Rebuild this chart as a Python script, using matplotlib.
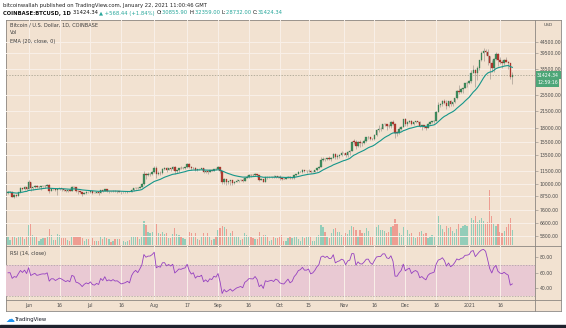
import matplotlib
matplotlib.use('Agg')
import matplotlib.pyplot as plt
import matplotlib.transforms as mtransforms
from matplotlib.patches import Rectangle
from matplotlib.lines import Line2D
from matplotlib.ticker import NullLocator
import numpy as np
import pandas as pd

W, H = 566, 328

# daily closes before the first visible candle (only used to warm up EMA / RSI)
warmup_close = [7130, 7490, 7510, 7540, 7700, 7790, 7760, 8780, 8620, 8830,
                8970, 8890, 8870, 9020, 9150, 9990, 9810, 9540, 8730, 8570,
                8820, 9310, 9790, 9320, 9380, 9680, 9730, 9780, 9510, 9060]

# COINBASE:BTCUSD 1D, 2020-05-22 .. 2021-01-22
close = [
    9170, 9180, 8720, 8900, 8840, 9200, 9575, 9430, 9700, 9450,  # May
    10200, 9520, 9660, 9800, 9620, 9670, 9750, 9780, 9770, 9880,
    9270, 9470, 9470, 9340, 9430, 9520, 9460, 9380, 9300, 9360,
    9290, 9680, 9630, 9290, 9250, 9160, 9010, 9120, 9190, 9140,  # Jun
    9230, 9090, 9060, 9130, 9080, 9340, 9250, 9430, 9240, 9290,
    9240, 9300, 9240, 9250, 9190, 9130, 9150, 9170, 9210, 9160,
    9390, 9530, 9610, 9550, 9710, 9930, 11030, 10930, 11100, 11110, 11340,  # Jul
    11800, 11070, 11230, 11190, 11740, 11760, 11590, 11760, 11680, 11880,
    11390, 11570, 11790, 11770, 11860, 11910, 12290, 11960, 11750, 11860,
    11520, 11680, 11650, 11750, 11330, 11460, 11320, 11530, 11480, 11710, 11660,  # Aug
    11920, 11390, 10170, 10470, 10160, 10260, 10370, 10120, 10230, 10340,
    10390, 10440, 10330, 10680, 10790, 10950, 10940, 10930, 11090, 10920,
    10420, 10530, 10240, 10740, 10690, 10730, 10770, 10690, 10840, 10780,  # Sep
    10620, 10570, 10550, 10670, 10790, 10600, 10670, 10920, 11060, 11300,
    11370, 11540, 11430, 11430, 11500, 11320, 11370, 11510, 11750, 11920,
    12810, 12990, 12930, 13120, 13030, 13070, 13650, 13280, 13460, 13560, 13800,  # Oct
    13760, 13550, 14030, 14150, 15590, 15580, 14830, 15480, 15330, 15310,
    15700, 16300, 16330, 16070, 15960, 16730, 17660, 17800, 17820, 18680,
    18710, 18420, 18370, 19160, 18740, 17150, 17140, 17720, 18180, 19700,  # Nov
    18790, 19220, 19450, 18700, 19160, 19380, 19180, 18330, 18550, 18260,
    18050, 18810, 19170, 19280, 19440, 21350, 22820, 23130, 23850, 23480,
    22720, 23820, 23250, 23730, 24710, 26440, 26280, 27040, 27370, 28880, 28990,  # Dec
    29410, 32200, 33000, 31990, 33990, 36820, 39460, 40670, 40240, 38240,
    35570, 34000, 37390, 39160, 36830, 36070, 35820, 36630, 36000, 35520,
    30855.90, 31424.34,  # Jan
]
high = [
    9270, 9310, 9300, 8980, 9010, 9220, 9620, 9610, 9740, 9700,
    10430, 10230, 9700, 9880, 9850, 9730, 9800, 9810, 9860, 9990,
    9950, 9560, 9500, 9480, 9500, 9580, 9560, 9480, 9400, 9400,
    9420, 9780, 9690, 9670, 9320, 9300, 9200, 9200, 9230, 9200,
    9300, 9270, 9130, 9190, 9140, 9380, 9360, 9460, 9450, 9310,
    9300, 9340, 9350, 9280, 9270, 9220, 9190, 9190, 9230, 9220,
    9430, 9540, 9670, 9630, 9730, 10130, 11420, 11250, 11340, 11180, 11460,
    12120, 12080, 11480, 11420, 11800, 11910, 11910, 11800, 11810, 12080,
    12000, 11620, 11800, 12000, 11990, 11950, 12480, 12400, 12020, 11890,
    11880, 11700, 11710, 11820, 11770, 11530, 11590, 11550, 11570, 11720, 11770,
    12080, 11950, 11460, 10600, 10560, 10350, 10400, 10430, 10350, 10500,
    10420, 10480, 10580, 10770, 10940, 11090, 11040, 11040, 11180, 11050,
    10990, 10580, 10540, 10780, 10770, 10780, 10800, 10950, 10870, 10860,
    10950, 10660, 10600, 10700, 10800, 10800, 10690, 10970, 11110, 11490,
    11440, 11740, 11550, 11560, 11630, 11540, 11410, 11520, 11830, 12010,
    13220, 13200, 13020, 13170, 13350, 13250, 13790, 13860, 13630, 13670, 14100,
    13900, 13830, 14080, 14240, 15750, 15980, 15780, 15650, 15850, 15480,
    15960, 16340, 16480, 16330, 16170, 16880, 17850, 18480, 18130, 18800,
    18970, 18750, 18770, 19410, 19480, 18910, 17470, 18170, 18350, 19860,
    19920, 19300, 19580, 19520, 19180, 19420, 19420, 19290, 18650, 18580,
    18280, 18950, 19420, 19350, 19570, 21560, 23770, 23290, 24170, 24300,
    24120, 23840, 24100, 23780, 24790, 26870, 28420, 27400, 27400, 28990, 29300,
    29680, 33300, 34800, 33600, 34440, 36940, 40380, 41950, 41380, 41400,
    38280, 36640, 37800, 40100, 39760, 37950, 36850, 37300, 37850, 36400,
    35600, 32359,
]
low = [
    8940, 9080, 8700, 8640, 8700, 8820, 9110, 9330, 9360, 9380,
    9420, 9270, 9400, 9530, 9580, 9560, 9400, 9630, 9580, 9720,
    9100, 9240, 9350, 9250, 8900, 9370, 9250, 9290, 9200, 9220,
    9270, 9280, 9560, 9220, 9000, 9040, 8830, 8950, 9020, 9080,
    9090, 8950, 9030, 9050, 8930, 9060, 9200, 9230, 9160, 9120,
    9190, 9160, 9200, 9120, 9160, 9020, 9080, 9120, 9110, 9130,
    9150, 9280, 9460, 9450, 9520, 9640, 9900, 10560, 10890, 10830, 10990,
    11230, 10660, 11000, 11000, 11100, 11590, 11360, 11530, 11500, 11540,
    11130, 11160, 11300, 11700, 11700, 11680, 11850, 11820, 11580, 11670,
    11500, 11400, 11520, 11590, 11160, 11260, 11140, 11280, 11450, 11460, 11600,
    11650, 11180, 10000, 9960, 9880, 10020, 9900, 9850, 10000, 10200,
    10200, 10300, 10200, 10260, 10630, 10660, 10760, 10810, 10890, 10760,
    10300, 10360, 10140, 10200, 10550, 10650, 10630, 10640, 10660, 10680,
    10420, 10360, 10500, 10520, 10630, 10530, 10560, 10540, 10830, 11050,
    11280, 11190, 11300, 11250, 11270, 11220, 11290, 11330, 11420, 11690,
    11900, 12690, 12730, 12880, 12900, 12780, 13060, 12950, 12990, 13140, 13440,
    13610, 13220, 13300, 13540, 14100, 15190, 14360, 14700, 14800, 14850,
    15280, 15450, 15960, 15780, 15800, 15870, 16550, 17230, 17350, 17750,
    18380, 17620, 18010, 18050, 18560, 16200, 16500, 16880, 17550, 18180,
    18330, 18330, 18920, 18580, 18520, 18870, 18920, 18230, 17650, 17920,
    17590, 18000, 18720, 19000, 19050, 19300, 21230, 22350, 22800, 23100,
    21900, 22360, 22700, 22710, 23440, 24520, 25830, 26100, 25880, 27320, 27850,
    28620, 28950, 32000, 27730, 29880, 33300, 36310, 36350, 38720, 35100,
    30300, 32500, 32400, 36700, 34400, 35400, 33850, 34800, 35900, 33400,
    30070, 28732,
]
volume = [
    9000, 6000, 9500, 10500, 8000, 9500, 10000, 8500, 7000, 9000,
    22000, 24000, 11000, 9000, 9500, 5000, 6500, 7500, 8000, 9000,
    18000, 11000, 5500, 6000, 12000, 11000, 8000, 7500, 8000, 6000,
    5000, 10000, 9000, 9500, 8500, 9000, 7500, 5000, 7000, 6500,
    7000, 7500, 5000, 4000, 4000, 9000, 6500, 8500, 7500, 6500,
    3500, 4500, 7000, 7000, 6500, 7500, 5000, 3500, 4500, 5500,
    9000, 10000, 9500, 8500, 7000, 10500, 27000, 22000, 15000, 14000, 14500,
    24000, 23000, 14000, 12500, 15000, 12000, 14000, 8000, 8000, 12000,
    19000, 12500, 11000, 10500, 7500, 7000, 16500, 15000, 14000, 9500,
    13000, 6500, 5500, 8500, 14000, 10000, 13500, 9500, 6000, 6500, 10000,
    17000, 18500, 21000, 20000, 18000, 9500, 13000, 16000, 10000, 10000,
    9000, 5500, 7000, 13000, 11000, 10500, 9500, 8000, 6500, 6500,
    14500, 9500, 11500, 11000, 9000, 4500, 5500, 9000, 7500, 8000,
    10500, 11000, 5000, 5000, 8000, 10000, 8000, 10500, 10000, 7000,
    5000, 10000, 8000, 8500, 9000, 9500, 4500, 4000, 9500, 11000,
    22000, 20000, 14500, 9000, 8000, 13000, 18000, 18500, 15000, 14500, 11000,
    9000, 13000, 12500, 16500, 21000, 20500, 17000, 10500, 17000, 13500,
    14000, 19000, 15500, 9500, 9000, 15500, 20500, 22000, 16500, 17000,
    15500, 13500, 15000, 20000, 21000, 29000, 24000, 13500, 11000, 20000,
    24000, 16500, 12000, 13500, 9500, 7500, 9000, 15000, 16000, 12500,
    14000, 8000, 9000, 11500, 10500, 24000, 32000, 22000, 17500, 14500,
    21000, 19000, 20000, 16000, 13000, 18000, 24000, 19000, 21000, 22000, 21000,
    18500, 30000, 28000, 33000, 26000, 28000, 30000, 27000, 23000, 26000,
    62000, 33000, 25000, 21000, 24000, 15000, 13500, 15500, 20000, 25000,
    30000, 17000,
]

tick_dates = ['2020-06-01', '2020-06-16', '2020-07-01', '2020-07-16', '2020-08-01',
              '2020-08-17', '2020-09-01', '2020-09-16', '2020-10-01', '2020-10-15',
              '2020-11-01', '2020-11-16', '2020-12-01', '2020-12-16', '2021-01-01',
              '2021-01-16']
tick_labels = ['Jun', '16', 'Jul', '16', 'Aug', '17', 'Sep', '16', 'Oct', '15',
               'Nov', '16', 'Dec', '16', '2021', '16']
price_ticks = [44500, 39500, 33500, 25500, 21500, 18000, 15500, 13500, 11500,
               10000, 8750, 7600, 6600, 5800]
rsi_ticks = [40, 60, 80]

BG = '#f2e2d1'
GRID = '#f9f0e8'
UP, DOWN = '#3f8f5f', '#b53a2f'
VOL_UP, VOL_DOWN = '#93cdb9', '#ee9d92'
WICK = '#9e958b'
LINE = '#8c8782'
TXT = '#4a4a4a'

# indicators
n_warm = len(warmup_close)
all_close = pd.Series(warmup_close + close, dtype=float)
dates = pd.date_range('2020-05-22', periods=len(close), freq='D')
x = np.arange(len(close))
c = np.array(close, dtype=float)
o = all_close.shift(1).values[n_warm:]
hi = np.maximum(np.array(high, dtype=float), np.maximum(o, c))
lo = np.minimum(np.array(low, dtype=float), np.minimum(o, c))
ema = all_close.ewm(span=20, adjust=False).mean().values[n_warm:]
delta = all_close.diff()
gain = delta.clip(lower=0).ewm(alpha=1/14, adjust=False).mean()
loss = (-delta.clip(upper=0)).ewm(alpha=1/14, adjust=False).mean()
rsi = (100 - 100 / (1 + gain / loss)).values[n_warm:]
up = c >= o
tick_idx = [dates.get_loc(pd.Timestamp(d)) for d in tick_dates]

plt.rcParams['font.family'] = ['DejaVu Sans']
fig = plt.figure(figsize=(W / 100, H / 100), dpi=100)
fig.patch.set_facecolor('white')


def px_axes(x0, y0, x1, y1):
    return fig.add_axes([x0 / W, 1 - y1 / H, (x1 - x0) / W, (y1 - y0) / H])


def hline(y, x0=6, x1=561):
    fig.add_artist(Line2D([x0 / W, x1 / W], [1 - y / H, 1 - y / H], color=LINE, lw=0.6))


def vline(xp, y0=20, y1=311):
    fig.add_artist(Line2D([xp / W, xp / W], [1 - y0 / H, 1 - y1 / H], color=LINE, lw=0.6))


# background frame
bg = px_axes(6, 20, 561, 311)
bg.set_facecolor(BG)
bg.set_xticks([])
bg.set_yticks([])
for s in bg.spines.values():
    s.set_color(LINE)
    s.set_linewidth(0.6)
bg.set_zorder(0)

# volume overlay
vax = px_axes(6, 188, 535, 245)
vax.set_zorder(1)
vax.patch.set_alpha(0)
vax.bar(x[up], np.array(volume)[up], width=0.6, color=VOL_UP, lw=0)
vax.bar(x[~up], np.array(volume)[~up], width=0.6, color=VOL_DOWN, lw=0)
vax.set_xlim(-1, 256)
vax.set_ylim(0, max(volume) * 1.03)
vax.axis('off')

# price pane
ax = px_axes(6, 20, 535, 245)
ax.set_zorder(2)
ax.patch.set_alpha(0)
for s in ax.spines.values():
    s.set_visible(False)
ax.set_yscale('log')
ax.set_xlim(-1, 256)
ax.set_ylim(5250, 56100)
ax.set_xticks(tick_idx)
ax.yaxis.tick_right()
ax.set_yticks(price_ticks)
ax.set_yticklabels([f'{v:.2f}' for v in price_ticks])
ax.yaxis.set_minor_locator(NullLocator())
ax.tick_params(axis='x', length=0, labelbottom=False)
ax.tick_params(axis='y', length=2, width=0.4, color=LINE, labelsize=3.3,
               labelcolor=TXT, pad=1.5)
ax.grid(color=GRID, lw=0.7, zorder=0)
ax.set_axisbelow(True)

ax.vlines(x, lo, hi, color=WICK, lw=0.45, zorder=2)
body_b = np.minimum(o, c)
body_h = np.maximum(np.abs(c - o), c * 0.002)
ax.bar(x[up], body_h[up], bottom=body_b[up], width=0.72, color=UP,
       edgecolor='#2d6b46', lw=0.2, zorder=3)
ax.bar(x[~up], body_h[~up], bottom=body_b[~up], width=0.72, color=DOWN,
       edgecolor='#8a2a22', lw=0.2, zorder=3)
ax.plot(x, ema, color='#15968a', lw=0.8, zorder=4)

last = c[-1]
ax.axhline(last, color='#9d9a88', lw=0.5, ls=(0, (2, 2)), zorder=1)
blend = mtransforms.blended_transform_factory(ax.transAxes, ax.transData)
ax.text(1.004, last, f'{last:.2f}', transform=blend, ha='left', va='center',
        fontsize=3.3, color='white', clip_on=False,
        bbox=dict(boxstyle='square,pad=0.35', fc='#4da678', ec='none'))
ax.annotate('12:59:16', xy=(1.004, last), xycoords=blend, xytext=(0, -5.5),
            textcoords='offset points', ha='left', va='center', fontsize=3.3,
            color='white', annotation_clip=False,
            bbox=dict(boxstyle='square,pad=0.35', fc='#4da678', ec='none'))

# RSI pane
rax = px_axes(6, 246, 535, 300)
rax.set_zorder(2)
rax.patch.set_alpha(0)
for s in rax.spines.values():
    s.set_visible(False)
rax.set_xlim(-1, 256)
rax.set_ylim(25, 94)
rax.axhspan(30, 70, color='#e9c9d3', lw=0, zorder=0)
rax.axhline(70, color='#a79ea0', lw=0.5, ls=(0, (2, 2)), zorder=1)
rax.axhline(30, color='#a79ea0', lw=0.5, ls=(0, (2, 2)), zorder=1)
rax.set_xticks(tick_idx)
rax.set_xticklabels(tick_labels)
rax.grid(axis='x', color=GRID, lw=0.7, zorder=0)
rax.set_axisbelow(True)
rax.yaxis.tick_right()
rax.set_yticks(rsi_ticks)
rax.set_yticklabels([f'{v:.2f}' for v in rsi_ticks])
rax.tick_params(axis='x', length=0, labelsize=3.3, labelcolor=TXT, pad=2.3)
rax.tick_params(axis='y', length=2, width=0.4, color=LINE, labelsize=3.3,
                labelcolor=TXT, pad=1.5)
rax.plot(x, rsi, color='#9540c0', lw=0.6, zorder=3)

# separators
vline(535)
hline(245.5)
hline(300)

# texts
fig.text(548 / W, 1 - 25 / H, 'USD', fontsize=3.2, color=TXT, ha='center', va='center')
for yy, s in [(25, 'Bitcoin / U.S. Dollar, 1D, COINBASE'), (33, 'Vol'), (41, 'EMA (20, close, 0)')]:
    fig.text(10 / W, 1 - yy / H, s, fontsize=3.6, color='#3b3b3b', va='center')
fig.text(10 / W, 1 - 253 / H, 'RSI (14, close)', fontsize=3.6, color='#3b3b3b', va='center')

fig.text(3 / W, 1 - 5 / H, 'bitcoinwallah published on TradingView.com, January 22, 2021 11:00:46 GMT',
         fontsize=3.8, color='#222222', va='center')

renderer = fig.canvas.get_renderer()
xpos = 3 / W
GREEN = '#26a69a'
parts = [('COINBASE:BTCUSD, 1D ', '#111111', 'bold'), ('31424.34 ', '#111111', 'normal'),
         ('\u25b2 +568.44 (+1.84%) ', GREEN, 'normal'),
         ('O:', '#111111', 'normal'), ('30855.90 ', GREEN, 'normal'),
         ('H:', '#111111', 'normal'), ('32359.00 ', GREEN, 'normal'),
         ('L:', '#111111', 'normal'), ('28732.00 ', GREEN, 'normal'),
         ('C:', '#111111', 'normal'), ('31424.34', GREEN, 'normal')]
for s, col, wt in parts:
    t = fig.text(xpos, 1 - 13 / H, s, fontsize=3.8, color=col, fontweight=wt, va='center')
    xpos += t.get_window_extent(renderer=renderer).width / fig.bbox.width

fig.text(6 / W, 1 - 319 / H, '\u2601', fontsize=6.5, color='#2196f3', va='center')
fig.text(15 / W, 1 - 319 / H, 'TradingView', fontsize=3.8, color='#131722', va='center')
fig.add_artist(Rectangle((0, 0), 1, 3 / H, transform=fig.transFigure, color='#1e222d'))

fig.savefig('out.png', dpi=100, facecolor='white')
